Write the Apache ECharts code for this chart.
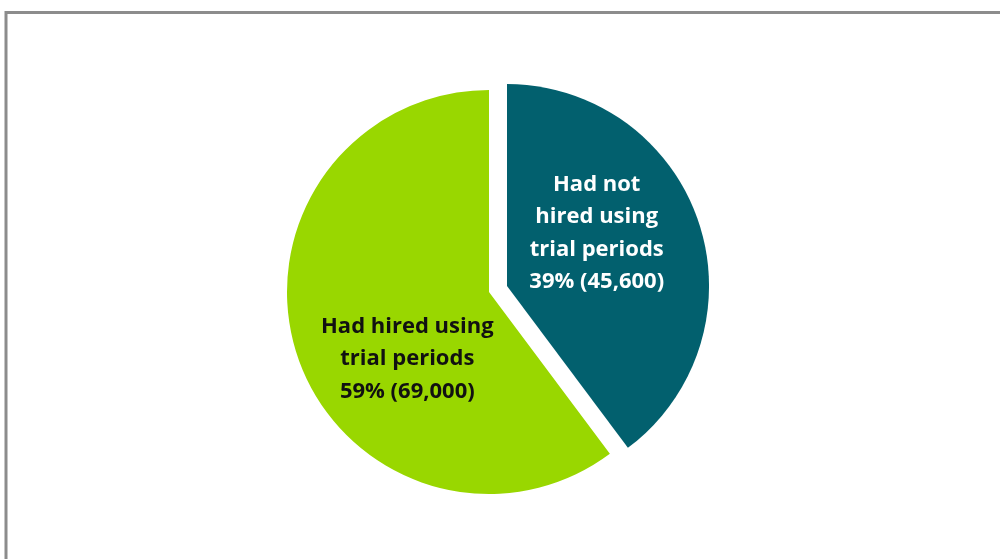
<!DOCTYPE html>
<html>
<head>
<meta charset="utf-8">
<script src="https://cdn.jsdelivr.net/npm/echarts@6/dist/echarts.min.js"></script>
<style>
html,body{margin:0;padding:0;background:#fff;}
#c{width:1000px;height:559px;}
</style>
</head>
<body>
<div id="c"></div>
<script>
const categories = ["Had not hired using trial periods", "Had hired using trial periods"];
const values = [45600, 69000];
const labelTexts = ["Had not\nhired using\ntrial periods\n39% (45,600)", "Had hired using\ntrial periods\n59% (69,000)"];
const colors = ["#02606E", "#99D700"];
const textColors = ["#ffffff", "#111111"];
const labelShifts = [[-9, -20], [17, 34]];

const chart = echarts.init(document.getElementById('c'), null, {renderer: 'canvas'});
chart.setOption({
  animation: false,
  backgroundColor: '#ffffff',
  graphic: [{
    type: 'rect',
    shape: {x: 6, y: 12.5, width: 1100, height: 700},
    style: {fill: 'none', stroke: '#8c8c8c', lineWidth: 3},
    silent: true
  }],
  series: [{
    type: 'pie',
    center: [489, 292],
    radius: [0, 202],
    startAngle: 90,
    clockwise: true,
    selectedMode: 'single',
    selectedOffset: 19,
    avoidLabelOverlap: false,
    emphasis: {disabled: true},
    labelLine: {show: false},
    labelLayout: function (p) {
      return {dx: labelShifts[p.dataIndex][0], dy: labelShifts[p.dataIndex][1]};
    },
    data: categories.map((name, i) => ({
      name: name,
      value: values[i],
      selected: i === 0,
      itemStyle: {color: colors[i]},
      label: {
        show: true,
        position: 'inside',
        formatter: labelTexts[i],
        color: textColors[i],
        fontFamily: 'Open Sans',
        fontWeight: 'bold',
        fontSize: 22,
        lineHeight: 32.5,
        align: 'center'
      }
    }))
  }]
});
</script>
</body>
</html>
